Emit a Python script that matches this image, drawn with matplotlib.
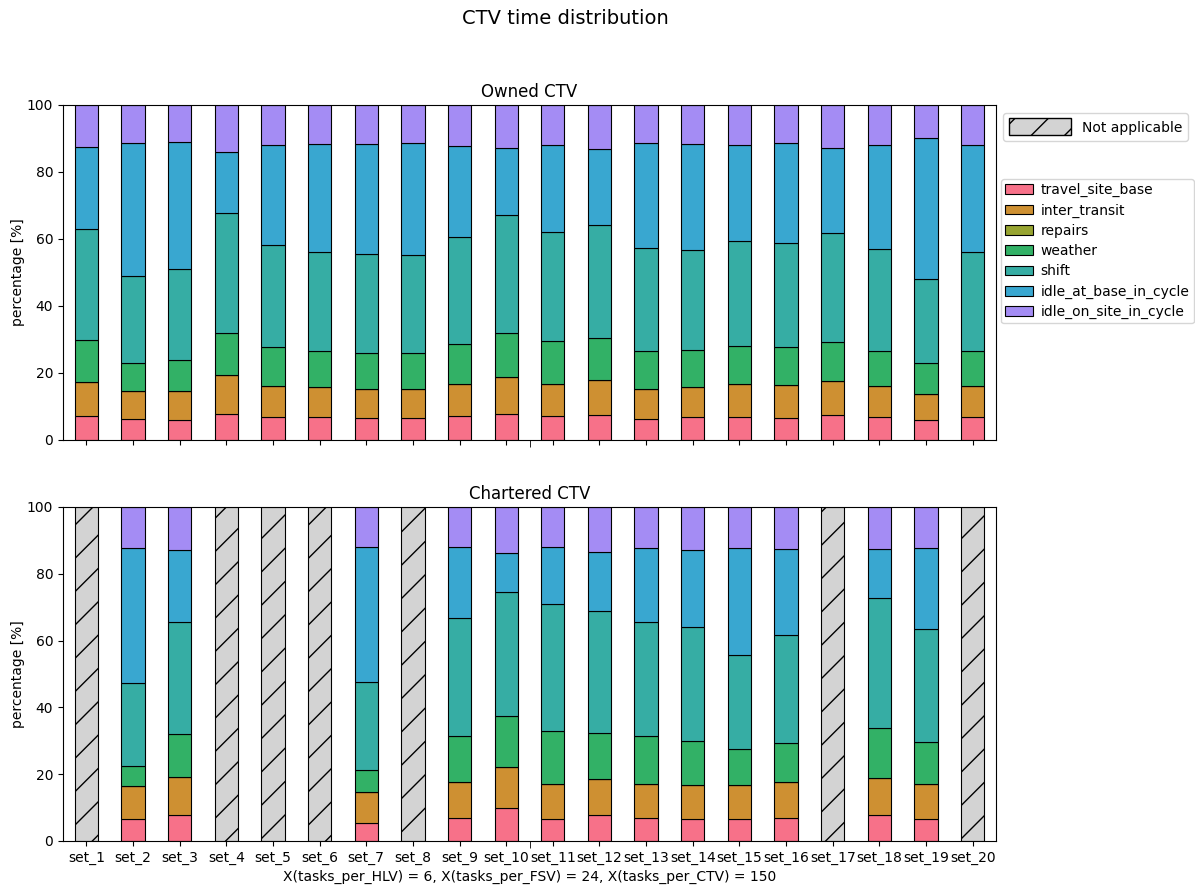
import numpy as np
import matplotlib
matplotlib.use('Agg')
import matplotlib.pyplot as plt
import matplotlib.patches as mpatches

SETS = [f'set_{i}' for i in range(1, 21)]
CATEGORIES = ['travel_site_base', 'inter_transit', 'repairs', 'weather', 'shift',
              'idle_at_base_in_cycle', 'idle_on_site_in_cycle']
# husl palette, 7 colours
COLORS = ['#f77189', '#ce9032', '#97a431', '#32b166', '#36ada4', '#39a7d0', '#a48cf4']

# owned CTV, share of time per category [%]
owned_travel_site_base = [7.2, 6.2, 5.9, 7.8, 7.0, 6.8, 6.5, 6.5, 7.3, 7.7,
                          7.1, 7.5, 6.4, 6.8, 6.8, 6.7, 7.4, 6.8, 5.9, 6.8]
owned_inter_transit = [10.2, 8.3, 8.6, 11.5, 9.2, 9.1, 8.8, 8.8, 9.3, 11.0,
                       9.6, 10.4, 8.9, 9.0, 9.8, 9.6, 10.2, 9.4, 7.7, 9.4]
owned_repairs = [0.0] * 20
owned_weather = [12.4, 8.5, 9.3, 12.6, 11.6, 10.6, 10.6, 10.6, 12.0, 13.2,
                 12.8, 12.5, 11.3, 11.2, 11.5, 11.4, 11.6, 10.5, 9.3, 10.4]
owned_shift = [33.1, 26.1, 27.1, 35.8, 30.5, 29.6, 29.6, 29.2, 31.9, 35.2,
               32.7, 33.8, 30.6, 29.6, 31.3, 31.2, 32.7, 30.3, 25.3, 29.5]
owned_idle_at_base = [24.6, 39.5, 38.0, 18.4, 29.7, 32.3, 32.8, 33.6, 27.2, 20.1,
                      25.9, 22.8, 31.4, 31.8, 28.6, 29.7, 25.3, 31.1, 41.8, 31.9]
owned_idle_on_site = [12.5, 11.4, 11.1, 13.9, 12.0, 11.6, 11.7, 11.3, 12.3, 12.8,
                      11.9, 13.0, 11.4, 11.6, 12.0, 11.4, 12.8, 11.9, 10.0, 12.0]

# chartered CTV, nan where no chartered vessel is used
nan = np.nan
chart_travel_site_base = [nan, 6.5, 7.8, nan, nan, nan, 5.4, nan, 6.9, 9.9,
                          6.7, 7.8, 6.8, 6.5, 6.7, 6.9, nan, 7.8, 6.6, nan]
chart_inter_transit = [nan, 10.0, 11.3, nan, nan, nan, 9.4, nan, 10.7, 12.3,
                       10.3, 10.8, 10.4, 10.4, 10.1, 10.7, nan, 11.0, 10.4, nan]
chart_repairs = [nan, 0.0, 0.0, nan, nan, nan, 0.0, nan, 0.0, 0.0,
                 0.0, 0.0, 0.0, 0.0, 0.0, 0.0, nan, 0.0, 0.0, nan]
chart_weather = [nan, 5.9, 12.9, nan, nan, nan, 6.6, nan, 13.7, 15.2,
                 15.9, 13.8, 14.1, 13.1, 10.6, 11.7, nan, 15.0, 12.6, nan]
chart_shift = [nan, 24.8, 33.5, nan, nan, nan, 26.1, nan, 35.5, 37.0,
               38.2, 36.6, 34.3, 34.0, 28.3, 32.4, nan, 38.9, 34.0, nan]
chart_idle_at_base = [nan, 40.5, 21.6, nan, nan, nan, 40.5, nan, 21.3, 11.8,
                      17.0, 17.5, 22.2, 23.0, 32.1, 25.6, nan, 14.6, 24.2, nan]
chart_idle_on_site = [nan, 12.3, 12.9, nan, nan, nan, 12.0, nan, 11.9, 13.8,
                      11.9, 13.5, 12.2, 13.0, 12.2, 12.7, nan, 12.7, 12.2, nan]

owned = np.array([owned_travel_site_base, owned_inter_transit, owned_repairs, owned_weather,
                  owned_shift, owned_idle_at_base, owned_idle_on_site])
chartered = np.array([chart_travel_site_base, chart_inter_transit, chart_repairs, chart_weather,
                      chart_shift, chart_idle_at_base, chart_idle_on_site])

x = np.arange(len(SETS))
width = 0.5


def stacked(ax, data, title):
	valid = ~np.isnan(data).any(axis=0)
	bottom = np.zeros(len(SETS))
	for cat, vals, c in zip(CATEGORIES, data, COLORS):
		v = np.where(valid, vals, 0.0)
		ax.bar(x[valid], v[valid], width, bottom=bottom[valid], color=c,
		       edgecolor='black', linewidth=0.8, label=cat)
		bottom += v
	# sets without this vessel type
	if (~valid).any():
		ax.bar(x[~valid], np.full((~valid).sum(), 100.0), width, color='lightgray',
		       edgecolor='black', linewidth=0.8, hatch='/')
	ax.set_title(title, fontsize=12)
	ax.set_ylabel('percentage [%]', labelpad=1)
	ax.set_ylim(0, 100)
	ax.set_xlim(-0.5, len(SETS) - 0.5)
	ax.set_xticks(x)
	ax.set_xticks([9.5], minor=True)
	ax.tick_params(axis='x', which='minor', length=5)


fig = plt.figure(figsize=(11.95, 8.86), dpi=100)
ax1 = fig.add_axes([0.0527, 0.5034, 0.7808, 0.3781])
ax2 = fig.add_axes([0.0527, 0.0508, 0.7808, 0.3770])

stacked(ax1, owned, 'Owned CTV')
stacked(ax2, chartered, 'Chartered CTV')
ax1.set_xticklabels([])
ax2.set_xticklabels(SETS, rotation=0)
ax2.set_xlabel('X(tasks_per_HLV) = 6, X(tasks_per_FSV) = 24, X(tasks_per_CTV) = 150')

fig.suptitle('CTV time distribution', fontsize=14, x=0.473, y=0.99)

na = mpatches.Patch(facecolor='lightgray', edgecolor='black', hatch='/', label='Not applicable')
leg1 = ax1.legend(handles=[na], loc='upper left', bbox_to_anchor=(1.0, 0.997),
                  handlelength=4.5, handleheight=1.5)
ax1.add_artist(leg1)
handles, labels = ax1.get_legend_handles_labels()
ax1.legend(handles[:len(CATEGORIES)], labels[:len(CATEGORIES)], loc='upper left',
           bbox_to_anchor=(0.998, 0.80), borderpad=0.3, handletextpad=0.55,
           labelspacing=0.45)

plt.savefig('out.png', dpi=100)
